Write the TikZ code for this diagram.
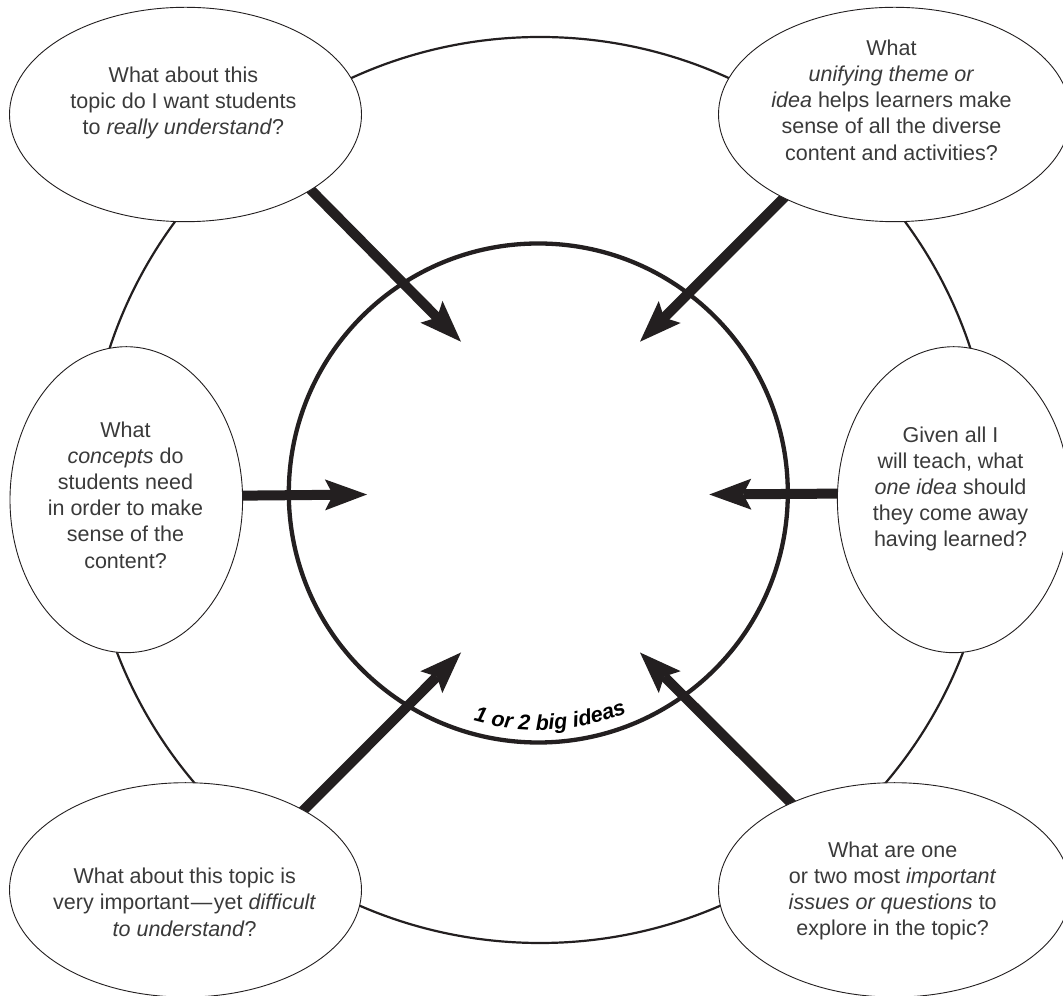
\documentclass[tikz,border=0pt]{standalone}
\usepackage{fontspec}
\setmainfont{Liberation Sans}
\usetikzlibrary{shapes.geometric,arrows.meta,calc,decorations.text}
\pgfdeclarelayer{bg}
\pgfsetlayers{bg,main}
\definecolor{ink}{HTML}{231F20}
\definecolor{txt}{HTML}{3A3A3A}
\newcommand\bigideafont{\fontsize{21.5}{25}\selectfont\bfseries\itshape}
\begin{document}
\begin{tikzpicture}[x=1pt,y=1pt,
  bub/.style={ellipse, draw=ink, line width=0.9pt, fill=white, inner sep=0pt, outer sep=0pt},
  widebub/.style={bub, minimum width=352pt, minimum height=214.4pt},
  tallbub/.style={bub, minimum width=232.6pt, minimum height=306pt},
  qtext/.style={align=center, text=txt, inner sep=0pt, anchor=north, font=\fontsize{21.5}{26.2}\selectfont},
  bigarrow/.style={draw=ink, line width=10pt, -{Stealth[length=42pt, width=31pt, inset=8pt, line width=0pt]}},
  ring/.style={draw=ink, line width=2.2pt},
  corering/.style={draw=ink, line width=4.3pt}
]
\useasboundingbox (0,0) rectangle (1063,996);
\clip (0,0) rectangle (1063,996);

% centres
\coordinate (O) at (540,506);
\coordinate (C) at (538.3,503);

% question ellipses
\node[widebub] (tl) at (185.5,881.5) {};
\node[widebub] (tr) at (894.5,881.5) {};
\node[tallbub] (ml) at (126.3,496.3) {};
\node[tallbub] (mr) at (953.7,496.3) {};
\node[widebub] (bl) at (185.5,106.1) {};
\node[widebub] (br) at (894.5,106.1) {};

% arrow tips
\coordinate (T1) at (461,654.3);
\coordinate (T2) at (640,654.3);
\coordinate (T3) at (367,501.5);
\coordinate (T4) at (709.3,501.5);
\coordinate (T5) at (461,343.5);
\coordinate (T6) at (640,343.5);

% texts
\node[qtext] (tlt) at (183.4,929.7) {What about this\\topic do I want students\\to \textit{really understand}?};
\node[qtext] (trt) at (891.5,956.4) {What\\\textit{unifying theme or}\\\textit{idea} helps learners make\\sense of all the diverse\\content and activities?};
\node[qtext] (mlt) at (125.5,574.7) {What\\\textit{concepts} do\\students need\\in order to make\\sense of the\\content?};
\node[qtext] (mrt) at (950.5,569.7) {Given all I\\will teach, what\\\textit{one idea} should\\they come away\\having learned?};
\node[qtext] (blt) at (184.7,128.1) {What about this topic is\\very important\kern1.5pt—\kern1.5pt yet \textit{difficult}\\\textit{to understand}?};
\node[qtext] (brt) at (892.7,154.7) {What are one\\or two most \textit{important}\\\textit{issues or questions} to\\explore in the topic?};

\begin{pgfonlayer}{bg}
  \fill[white] (0,0) rectangle (1063,996);
  \draw[ring] (O) circle[radius=453];
  \draw[corering] (C) circle[radius=249.5];
  \draw[bigarrow] ($(tl.-31.4)!-8pt!(T1)$) -- (T1);
  \draw[bigarrow] ($(tr.217.1)!-8pt!(T2)$) -- (T2);
  \draw[bigarrow] ($(ml.2.6)!-8pt!(T3)$) -- (T3);
  \draw[bigarrow] ($(mr.177.5)!-8pt!(T4)$) -- (T4);
  \draw[bigarrow] ($(bl.34.1)!-8pt!(T5)$) -- (T5);
  \draw[bigarrow] ($(br.140.1)!-8pt!(T6)$) -- (T6);
  \path[decorate, decoration={text along path, text={|\bigideafont|1 or 2 big ideas}, text align=center}]
    ($(C)+(-117:237)$) arc[start angle=-117, end angle=-57, radius=237];
\end{pgfonlayer}
\end{tikzpicture}
\end{document}
